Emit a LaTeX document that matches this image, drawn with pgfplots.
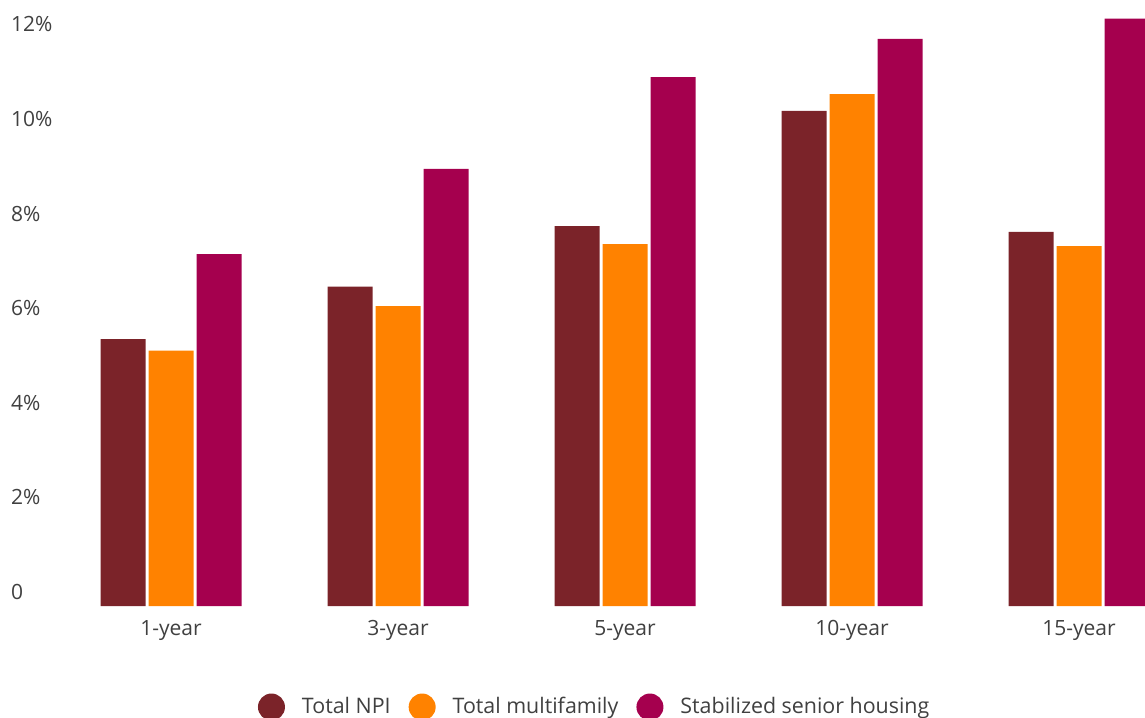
\documentclass[border=0pt]{standalone}
\usepackage{pgfplots}
\pgfplotsset{compat=1.18}
\usepackage{fontspec}
\setmainfont{Open Sans}

\definecolor{npi}{HTML}{7B2329}
\definecolor{multi}{HTML}{FF8200}
\definecolor{senior}{HTML}{A5004E}
\definecolor{txt}{HTML}{404040}

% round swatch for the legend
\pgfplotsset{
  dot legend/.style={
    legend image code/.code={
      \fill[##1, draw=none] (13.5pt,0pt) circle (13.5pt);
    }
  }
}

\begin{document}
\fontsize{21pt}{25pt}\selectfont
\begin{tikzpicture}
\useasboundingbox (0pt,-111pt) rectangle (1145pt,606pt);
\clip (0pt,-111pt) rectangle (1145pt,606pt);
\begin{axis}[
  width=1145pt, height=606pt, scale only axis,
  xmin=-0.7533, xmax=4.2907,
  ymin=0, ymax=12.812,
  axis line style={draw=none},
  tick style={draw=none},
  major tick length=0pt,
  ybar=3pt, bar width=45pt,
  xtick={0,1,2,3,4},
  xticklabels={1-year,3-year,5-year,10-year,15-year},
  ytick={0,2,4,6,8,10,12},
  yticklabels={0,2\%,4\%,6\%,8\%,10\%,12\%},
  ticklabel style={text=txt, font=\fontsize{21pt}{25pt}\selectfont},
  yticklabel style={anchor=west, inner sep=0pt, xshift=11pt, yshift=14pt},
  xticklabel style={anchor=north, inner sep=0pt, yshift=-14pt},
  legend columns=3,
  legend style={
    draw=none, fill=none, inner sep=0pt, outer sep=0pt,
    at={(0.2253,-0.1667)}, anchor=west,
    font=\fontsize{21.4pt}{25pt}\selectfont,
    nodes={inner sep=0pt, text=txt},
    /tikz/every odd column/.append style={column sep=17pt},
    /tikz/every even column/.append style={column sep=18pt},
  },
]
\addplot[fill=npi, draw=none, dot legend] coordinates
  {(0,5.64) (1,6.75) (2,8.03) (3,10.47) (4,7.91)};
\addplot[fill=multi, draw=none, dot legend] coordinates
  {(0,5.40) (1,6.34) (2,7.65) (3,10.82) (4,7.61)};
\addplot[fill=senior, draw=none, dot legend] coordinates
  {(0,7.44) (1,9.24) (2,11.18) (3,11.99) (4,12.42)};
\legend{Total NPI, Total multifamily, Stabilized senior housing}
\end{axis}
\end{tikzpicture}
\end{document}
